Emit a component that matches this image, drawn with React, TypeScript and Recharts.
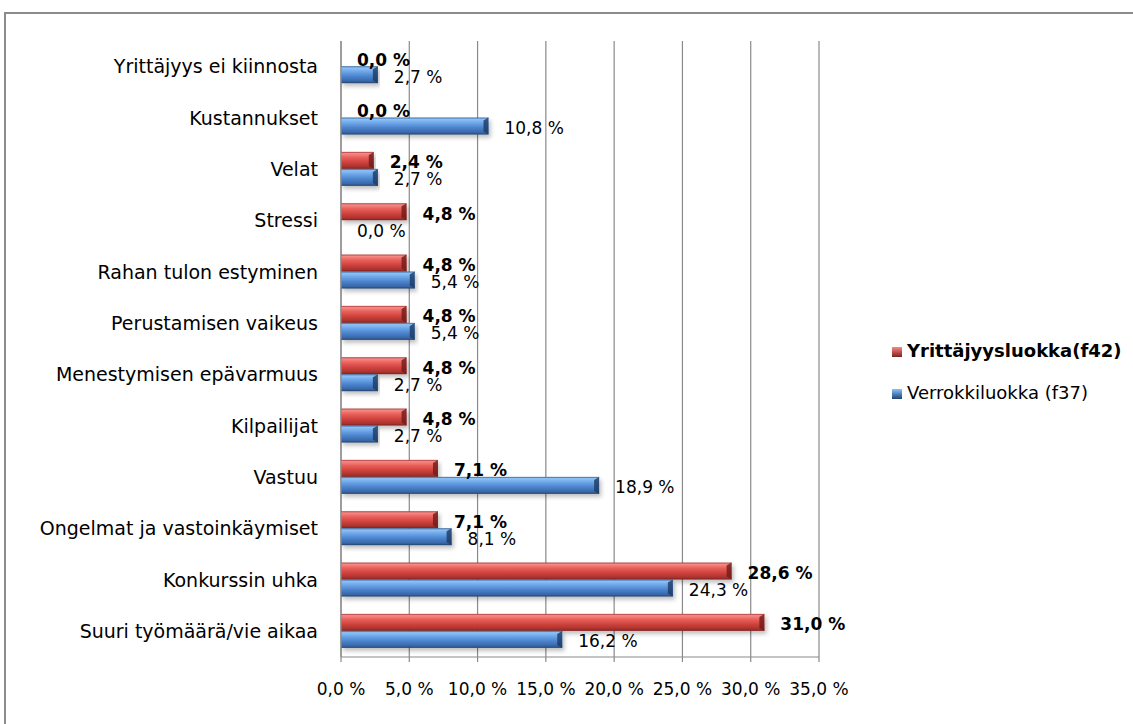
import React from 'react';
import { BarChart, Bar, XAxis, YAxis, CartesianGrid, LabelList } from 'recharts';

const categories = [
  'Yrittäjyys ei kiinnosta',
  'Kustannukset',
  'Velat',
  'Stressi',
  'Rahan tulon estyminen',
  'Perustamisen vaikeus',
  'Menestymisen epävarmuus',
  'Kilpailijat',
  'Vastuu',
  'Ongelmat ja vastoinkäymiset',
  'Konkurssin uhka',
  'Suuri työmäärä/vie aikaa',
];
const yrittajyysValues = [0.0, 0.0, 2.4, 4.8, 4.8, 4.8, 4.8, 4.8, 7.1, 7.1, 28.6, 31.0];
const verrokkiValues = [2.7, 10.8, 2.7, 0.0, 5.4, 5.4, 2.7, 2.7, 18.9, 8.1, 24.3, 16.2];
const xTicks = [0, 5, 10, 15, 20, 25, 30, 35];
const seriesNames = ['Yrittäjyysluokka(f42)', 'Verrokkiluokka (f37)'];

const data = categories.map((c, i) => ({ category: c, yr: yrittajyysValues[i], ve: verrokkiValues[i] }));

const FONT = '"DejaVu Sans", Verdana, sans-serif';
const GRID = '#8a8a8a';
const fmt = (v: number) => v.toFixed(1).replace('.', ',') + ' %';

const makeShape = (gradId: string, edge: string) => (props: any) => {
  const { x, y, width, height } = props;
  if (!width || width <= 0.5) return <g />;
  const b = Math.min(5, width / 2);
  return (
    <g filter="url(#barShadow)">
      <rect x={x} y={y} width={width} height={height} fill={`url(#${gradId})`} />
      <polygon
        points={`${x + width - b},${y + 3} ${x + width},${y} ${x + width},${y + height} ${x + width - b},${y + height - 3}`}
        fill={edge}
        opacity={0.8}
      />
    </g>
  );
};

const makeLabel = (bold: boolean) => (props: any) => {
  const { x, y, width, height, value } = props;
  return (
    <text
      x={Number(x) + Number(width) + 16}
      y={Number(y) + Number(height) / 2 + 2}
      dominantBaseline="central"
      fontFamily={FONT}
      fontSize={17}
      fontWeight={bold ? 'bold' : 'normal'}
      fill="#000"
    >
      {fmt(Number(value))}
    </text>
  );
};

const Defs = () => (
  <defs>
    <linearGradient id="gradRed" x1="0" y1="0" x2="0" y2="1">
      <stop offset="0%" stopColor="#a83a36" />
      <stop offset="10%" stopColor="#f68a86" />
      <stop offset="32%" stopColor="#e9615c" />
      <stop offset="60%" stopColor="#d1433e" />
      <stop offset="88%" stopColor="#a9322e" />
      <stop offset="100%" stopColor="#7a2220" />
    </linearGradient>
    <linearGradient id="gradBlue" x1="0" y1="0" x2="0" y2="1">
      <stop offset="0%" stopColor="#30609a" />
      <stop offset="10%" stopColor="#8fc2f6" />
      <stop offset="32%" stopColor="#6ca5e7" />
      <stop offset="60%" stopColor="#4b83cd" />
      <stop offset="88%" stopColor="#3966a6" />
      <stop offset="100%" stopColor="#22426c" />
    </linearGradient>
    <filter id="barShadow" x="-5%" y="-20%" width="110%" height="160%">
      <feDropShadow dx="2" dy="3" stdDeviation="2" floodColor="#000" floodOpacity="0.25" />
    </filter>
  </defs>
);

const LegendSwatch = ({ grad }: { grad: string }) => (
  <span
    style={{
      display: 'inline-block',
      width: 10,
      height: 10,
      background: grad,
      marginRight: 5,
      verticalAlign: 'middle',
    }}
  />
);

export default function App() {
  return (
    <div style={{ position: 'absolute', left: 0, top: 0, width: 1133, height: 724, background: '#fff' }}>
      <div
        style={{
          position: 'absolute',
          left: 4,
          top: 12,
          width: 1127,
          height: 710,
          borderLeft: '2px solid #8c8c8c',
          borderTop: '2px solid #8c8c8c',
        }}
      />
      <div style={{ position: 'absolute', left: 0, top: 0 }}>
        <BarChart
          width={1133}
          height={724}
          data={data}
          layout="vertical"
          margin={{ top: 41, right: 314, bottom: 0, left: 0 }}
          barCategoryGap="16%"
          barGap={0}
        >
          <Defs />
          <CartesianGrid horizontal={false} vertical={true} stroke={GRID} strokeWidth={1.2} />
          <XAxis
            type="number"
            domain={[0, 35]}
            ticks={xTicks}
            tickFormatter={fmt}
            interval={0}
            height={67}
            axisLine={{ stroke: GRID, strokeWidth: 1.2 }}
            tickLine={{ stroke: GRID, strokeWidth: 1.2 }}
            tickSize={5}
            tickMargin={21}
            tick={{ fontSize: 17, fill: '#000', fontFamily: FONT }}
          />
          <YAxis
            type="category"
            dataKey="category"
            width={341}
            interval={0}
            axisLine={{ stroke: GRID, strokeWidth: 1.2 }}
            tickLine={false}
            tickSize={0}
            tickMargin={23}
            tick={{ fontSize: 19, fill: '#000', fontFamily: FONT }}
          />
          <Bar dataKey="yr" name={seriesNames[0]} isAnimationActive={false} shape={makeShape('gradRed', '#6e1b19')}>
            <LabelList dataKey="yr" content={makeLabel(true)} />
          </Bar>
          <Bar dataKey="ve" name={seriesNames[1]} isAnimationActive={false} shape={makeShape('gradBlue', '#1d3a63')}>
            <LabelList dataKey="ve" content={makeLabel(false)} />
          </Bar>
        </BarChart>
      </div>
      <div style={{ position: 'absolute', left: 892, top: 339, fontFamily: FONT, fontSize: 18, color: '#000', lineHeight: '24px' }}>
        <div style={{ fontWeight: 'bold', whiteSpace: 'nowrap' }}>
          <LegendSwatch grad="linear-gradient(#f68a86, #c0504d 50%, #7a2220)" />
          {seriesNames[0]}
        </div>
        <div style={{ marginTop: 18, whiteSpace: 'nowrap' }}>
          <LegendSwatch grad="linear-gradient(#8fc2f6, #4f81bd 50%, #22426c)" />
          {seriesNames[1]}
        </div>
      </div>
    </div>
  );
}
